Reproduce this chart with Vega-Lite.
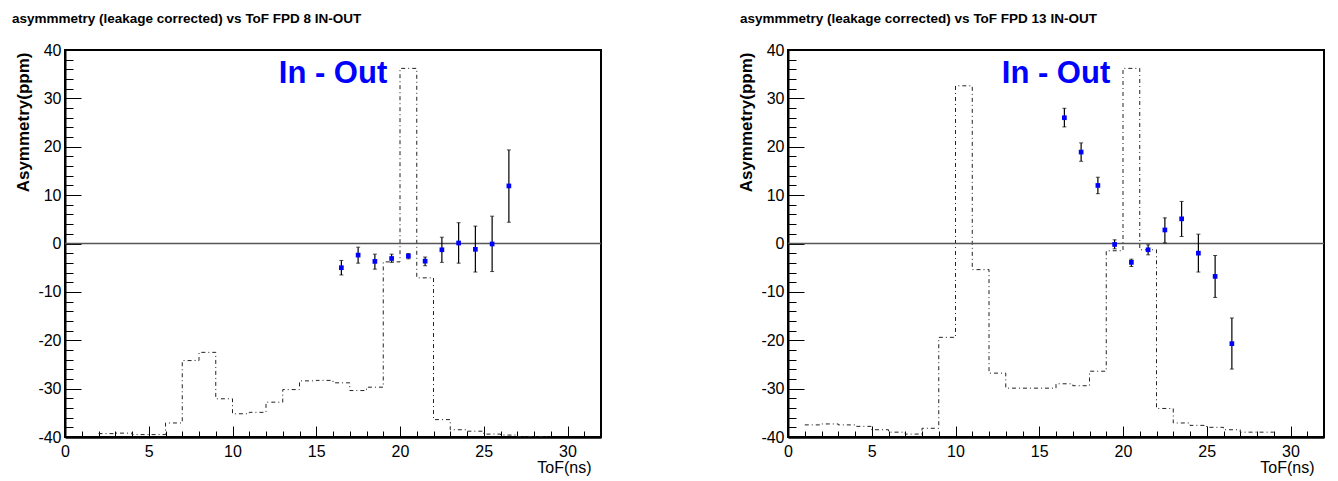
{
  "$schema": "https://vega.github.io/schema/vega-lite/v6.json",
  "background": "white",
  "padding": {"left": 11, "top": 10, "right": 5, "bottom": 5},
  "config": {
    "view": {"stroke": "black", "strokeWidth": 2},
    "font": "Liberation Sans",
    "axis": {"grid": false, "labelFont": "Liberation Sans", "labelFontSize": 16, "labelColor": "black", "tickColor": "black", "tickWidth": 1, "domainColor": "black", "labelOverlap": false, "labelFlush": false, "titleFont": "Liberation Sans", "titleColor": "black", "tickCount": 200, "format": "d"},
    "title": {"font": "Liberation Sans", "fontSize": 13.5, "fontWeight": "bold", "color": "black", "anchor": "start", "frame": "group"}
  },
  "datasets": {
    "hist8": [
      {"tof": 2, "a": -39.3}, {"tof": 3, "a": -39.2}, {"tof": 4, "a": -39.5}, {"tof": 5, "a": -39.5},
      {"tof": 6, "a": -37.1}, {"tof": 7, "a": -24.2}, {"tof": 8, "a": -22.5}, {"tof": 9, "a": -32.1},
      {"tof": 10, "a": -35.2}, {"tof": 11, "a": -34.9}, {"tof": 12, "a": -32.8}, {"tof": 13, "a": -30.2},
      {"tof": 14, "a": -28.4}, {"tof": 15, "a": -28.3}, {"tof": 16, "a": -28.8}, {"tof": 17, "a": -30.4},
      {"tof": 18, "a": -29.7}, {"tof": 19, "a": -3.8}, {"tof": 20, "a": 36.2}, {"tof": 21, "a": -7.1},
      {"tof": 22, "a": -36.4}, {"tof": 23, "a": -38.5}, {"tof": 24, "a": -38.8}, {"tof": 25, "a": -39.4},
      {"tof": 26, "a": -39.6}, {"tof": 27, "a": -39.9}, {"tof": 28, "a": -39.9}, {"tof": 29, "a": -39.9}
    ],
    "pts8": [
      {"tof": 16.5, "asym": -5.0, "lo": -6.5, "hi": -3.5},
      {"tof": 17.5, "asym": -2.4, "lo": -4.06, "hi": -0.76},
      {"tof": 18.5, "asym": -3.7, "lo": -5.3, "hi": -2.2},
      {"tof": 19.5, "asym": -3.1, "lo": -3.9, "hi": -2.2},
      {"tof": 20.5, "asym": -2.6, "lo": -3.17, "hi": -2.07},
      {"tof": 21.5, "asym": -3.65, "lo": -4.6, "hi": -2.8},
      {"tof": 22.5, "asym": -1.3, "lo": -3.9, "hi": 1.3},
      {"tof": 23.5, "asym": 0.1, "lo": -4.06, "hi": 4.3},
      {"tof": 24.5, "asym": -1.2, "lo": -5.9, "hi": 3.6},
      {"tof": 25.5, "asym": -0.1, "lo": -5.8, "hi": 5.65},
      {"tof": 26.5, "asym": 11.9, "lo": 4.4, "hi": 19.35}
    ],
    "hist13": [
      {"tof": 1, "a": -37.5}, {"tof": 2, "a": -37.3}, {"tof": 3, "a": -37.5}, {"tof": 4, "a": -37.8},
      {"tof": 5, "a": -38.5}, {"tof": 6, "a": -39.0}, {"tof": 7, "a": -39.4}, {"tof": 8, "a": -38.2},
      {"tof": 9, "a": -19.4}, {"tof": 10, "a": 32.6}, {"tof": 11, "a": -5.4}, {"tof": 12, "a": -26.8},
      {"tof": 13, "a": -29.9}, {"tof": 14, "a": -29.9}, {"tof": 15, "a": -29.9}, {"tof": 16, "a": -29.0},
      {"tof": 17, "a": -29.4}, {"tof": 18, "a": -26.4}, {"tof": 19, "a": -1.5}, {"tof": 20, "a": 36.2},
      {"tof": 21, "a": -1.3}, {"tof": 22, "a": -34.1}, {"tof": 23, "a": -37.1}, {"tof": 24, "a": -37.6},
      {"tof": 25, "a": -38.0}, {"tof": 26, "a": -38.5}, {"tof": 27, "a": -39.0}, {"tof": 28, "a": -39.0},
      {"tof": 29, "a": -39.0}
    ],
    "pts13": [
      {"tof": 16.5, "asym": 26.0, "lo": 24.1, "hi": 27.95},
      {"tof": 17.5, "asym": 18.9, "lo": 17.0, "hi": 20.8},
      {"tof": 18.5, "asym": 12.0, "lo": 10.3, "hi": 13.7},
      {"tof": 19.5, "asym": -0.2, "lo": -1.1, "hi": 0.76},
      {"tof": 20.5, "asym": -3.9, "lo": -4.75, "hi": -3.24},
      {"tof": 21.5, "asym": -1.3, "lo": -2.34, "hi": -0.28},
      {"tof": 22.5, "asym": 2.8, "lo": 0.14, "hi": 5.3},
      {"tof": 23.5, "asym": 5.1, "lo": 1.45, "hi": 8.7},
      {"tof": 24.5, "asym": -2.0, "lo": -5.9, "hi": 1.93},
      {"tof": 25.5, "asym": -6.8, "lo": -11.15, "hi": -2.48},
      {"tof": 26.5, "asym": -20.7, "lo": -25.96, "hi": -15.4}
    ],
    "label": [{"text": "In - Out"}],
    "zero": [{"v": 0}]
  },
  "bounds": "flush",
  "spacing": 187,
  "hconcat": [
    {
      "width": 536, "height": 387,
      "title": {"text": "asymmmetry (leakage corrected) vs ToF FPD 8 IN-OUT", "dx": -53, "offset": 17},
      "layer": [
        {
          "data": {"name": "hist8"},
          "mark": {"type": "line", "interpolate": "step-after", "strokeDash": [4, 3, 1, 3], "strokeWidth": 1, "color": "#222"},
          "encoding": {
            "x": {"field": "tof", "type": "quantitative", "scale": {"domain": [0, 32], "nice": false, "zero": false},
              "axis": {"title": "ToF(ns)", "titleFontSize": 16, "titleFontWeight": "normal", "titleX": 526, "titleY": 35, "titleAlign": "right", "titleBaseline": "alphabetic", "titleAnchor": null,
                "values": [0,1,2,3,4,5,6,7,8,9,10,11,12,13,14,15,16,17,18,19,20,21,22,23,24,25,26,27,28,29,30,31,32],
                "labelExpr": "datum.value % 5 === 0 ? datum.label : ''",
                "tickSize": {"condition": {"test": "datum.value % 5 === 0", "value": -11}, "value": -6},
                "labelPadding": 17, "domainWidth": 2.5}},
            "y": {"field": "a", "type": "quantitative", "scale": {"domain": [-40, 40], "nice": false, "zero": false},
              "axis": {"title": "Asymmetry(ppm)", "titleFontSize": 17, "titleFontWeight": "bold", "titleX": -33, "titleY": 2, "titleAngle": 270, "titleAlign": "right", "titleBaseline": "bottom", "titleAnchor": null,
                "values": [-40,-38,-36,-34,-32,-30,-28,-26,-24,-22,-20,-18,-16,-14,-12,-10,-8,-6,-4,-2,0,2,4,6,8,10,12,14,16,18,20,22,24,26,28,30,32,34,36,38,40],
                "labelExpr": "datum.value % 10 === 0 ? replace(datum.label, '\u2212', '-') : ''",
                "tickSize": {"condition": {"test": "datum.value % 10 === 0", "value": -16}, "value": -8},
                "labelPadding": 20, "domainWidth": 2}}
          }
        },
        {"data": {"name": "zero"}, "mark": {"type": "rule", "color": "#555", "strokeWidth": 1.5}, "encoding": {"y": {"field": "v", "type": "quantitative"}}},
        {"data": {"name": "pts8"}, "mark": {"type": "rule", "color": "black", "strokeWidth": 1.2}, "encoding": {"x": {"field": "tof", "type": "quantitative"}, "y": {"field": "lo", "type": "quantitative"}, "y2": {"field": "hi"}}},
        {"data": {"name": "pts8"}, "mark": {"type": "tick", "orient": "horizontal", "color": "black", "size": 4, "thickness": 1}, "encoding": {"x": {"field": "tof", "type": "quantitative"}, "y": {"field": "lo", "type": "quantitative"}}},
        {"data": {"name": "pts8"}, "mark": {"type": "tick", "orient": "horizontal", "color": "black", "size": 4, "thickness": 1}, "encoding": {"x": {"field": "tof", "type": "quantitative"}, "y": {"field": "hi", "type": "quantitative"}}},
        {"data": {"name": "pts8"}, "mark": {"type": "square", "color": "#0000ff", "size": 22, "opacity": 1}, "encoding": {"x": {"field": "tof", "type": "quantitative"}, "y": {"field": "asym", "type": "quantitative"}}},
        {"data": {"name": "label"}, "mark": {"type": "text", "color": "#0000ff", "font": "Liberation Sans", "fontSize": 31, "fontWeight": "bold", "align": "center", "baseline": "alphabetic"}, "encoding": {"x": {"datum": 16}, "y": {"datum": 33.2}, "text": {"field": "text"}}}
      ]
    },
    {
      "width": 536, "height": 387,
      "title": {"text": "asymmmetry (leakage corrected) vs ToF FPD 13 IN-OUT", "dx": -48, "offset": 17},
      "layer": [
        {
          "data": {"name": "hist13"},
          "mark": {"type": "line", "interpolate": "step-after", "strokeDash": [4, 3, 1, 3], "strokeWidth": 1, "color": "#222"},
          "encoding": {
            "x": {"field": "tof", "type": "quantitative", "scale": {"domain": [0, 32], "nice": false, "zero": false},
              "axis": {"title": "ToF(ns)", "titleFontSize": 16, "titleFontWeight": "normal", "titleX": 526, "titleY": 35, "titleAlign": "right", "titleBaseline": "alphabetic", "titleAnchor": null,
                "values": [0,1,2,3,4,5,6,7,8,9,10,11,12,13,14,15,16,17,18,19,20,21,22,23,24,25,26,27,28,29,30,31,32],
                "labelExpr": "datum.value % 5 === 0 ? datum.label : ''",
                "tickSize": {"condition": {"test": "datum.value % 5 === 0", "value": -11}, "value": -6},
                "labelPadding": 17, "domainWidth": 2.5}},
            "y": {"field": "a", "type": "quantitative", "scale": {"domain": [-40, 40], "nice": false, "zero": false},
              "axis": {"title": "Asymmetry(ppm)", "titleFontSize": 17, "titleFontWeight": "bold", "titleX": -33, "titleY": 2, "titleAngle": 270, "titleAlign": "right", "titleBaseline": "bottom", "titleAnchor": null,
                "values": [-40,-38,-36,-34,-32,-30,-28,-26,-24,-22,-20,-18,-16,-14,-12,-10,-8,-6,-4,-2,0,2,4,6,8,10,12,14,16,18,20,22,24,26,28,30,32,34,36,38,40],
                "labelExpr": "datum.value % 10 === 0 ? replace(datum.label, '\u2212', '-') : ''",
                "tickSize": {"condition": {"test": "datum.value % 10 === 0", "value": -16}, "value": -8},
                "labelPadding": 20, "domainWidth": 2}}
          }
        },
        {"data": {"name": "zero"}, "mark": {"type": "rule", "color": "#555", "strokeWidth": 1.5}, "encoding": {"y": {"field": "v", "type": "quantitative"}}},
        {"data": {"name": "pts13"}, "mark": {"type": "rule", "color": "black", "strokeWidth": 1.2}, "encoding": {"x": {"field": "tof", "type": "quantitative"}, "y": {"field": "lo", "type": "quantitative"}, "y2": {"field": "hi"}}},
        {"data": {"name": "pts13"}, "mark": {"type": "tick", "orient": "horizontal", "color": "black", "size": 4, "thickness": 1}, "encoding": {"x": {"field": "tof", "type": "quantitative"}, "y": {"field": "lo", "type": "quantitative"}}},
        {"data": {"name": "pts13"}, "mark": {"type": "tick", "orient": "horizontal", "color": "black", "size": 4, "thickness": 1}, "encoding": {"x": {"field": "tof", "type": "quantitative"}, "y": {"field": "hi", "type": "quantitative"}}},
        {"data": {"name": "pts13"}, "mark": {"type": "square", "color": "#0000ff", "size": 22, "opacity": 1}, "encoding": {"x": {"field": "tof", "type": "quantitative"}, "y": {"field": "asym", "type": "quantitative"}}},
        {"data": {"name": "label"}, "mark": {"type": "text", "color": "#0000ff", "font": "Liberation Sans", "fontSize": 31, "fontWeight": "bold", "align": "center", "baseline": "alphabetic"}, "encoding": {"x": {"datum": 16}, "y": {"datum": 33.2}, "text": {"field": "text"}}}
      ]
    }
  ]
}
